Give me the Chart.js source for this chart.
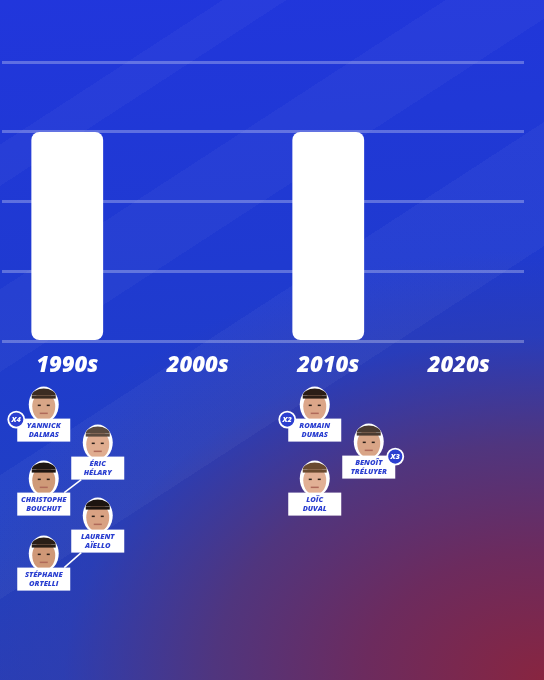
<!DOCTYPE html>
<html lang="fr">
<head>
  <meta charset="UTF-8">
  <title>Vainqueurs français par décennie</title>
  <style>
    html,body{margin:0;width:544px;height:680px;overflow:hidden}
    body{
      background:
        linear-gradient(-33deg, transparent 0 42%, rgba(255,255,255,0.035) 42% 54%, transparent 54% 100%),
        linear-gradient(-33deg, transparent 0 64%, rgba(255,255,255,0.03) 64% 72%, transparent 72% 100%),
        linear-gradient(-33deg, transparent 0 82%, rgba(255,255,255,0.03) 82% 86%, transparent 86% 100%),
        radial-gradient(ellipse 600px 430px at 100% 100%, #882540 0%, #6c2b5e 30%, #50357e 55%, rgba(50,60,170,0.5) 80%, rgba(40,60,190,0) 100%),
        linear-gradient(175deg, #2136dc 0%, #1f3ad0 40%, #2040c2 75%, #2a3eb4 100%);
    }
    #wrap{position:absolute;left:0;top:0;width:544px;height:680px}
  </style>
  <script src="https://cdn.jsdelivr.net/npm/chart.js"></script>
</head>
<body>
  <div id="wrap"><canvas id="decadeChart"></canvas></div>
  <script>
    const decades = ['1990s','2000s','2010s','2020s'];
    const winners = [3, 0, 3, 0];
    const yTicks  = [0, 1, 2, 3, 4];

    const driverNames   = [['YANNICK','DALMAS'],['ÉRIC','HÉLARY'],['CHRISTOPHE','BOUCHUT'],['LAURENT','AÏELLO'],['STÉPHANE','ORTELLI'],
                           ['ROMAIN','DUMAS'],['BENOÎT','TRÉLUYER'],['LOÏC','DUVAL']];
    const driverDecade  = [0, 0, 0, 0, 0, 2, 2, 2];
    const driverWins    = [4, 1, 1, 1, 1, 2, 3, 1];

    // card layout: box left offset from decade centre, top offset below the axis, badge side
    const cardSlots = [
      {dx:-50, dy:77,  badge:'left'},
      {dx:4,   dy:115, badge:'right'},
      {dx:-50, dy:151, badge:'left'},
      {dx:4,   dy:188, badge:'right'},
      {dx:-50, dy:226, badge:'left'},
      {dx:-40, dy:77,  badge:'left'},
      {dx:14,  dy:114, badge:'right'},
      {dx:-40, dy:151, badge:'left'}
    ];
    const links = [[1,2],[3,4]];
    const faceTones = [['#d8a687','#3b2c22'],['#e0ad90','#5a4a3e'],['#cf9a78','#1e1612'],['#d9a283','#1c1410'],['#cf9877','#2a1e16'],
                       ['#dca689','#2a1d16'],['#d9a587','#4a3a30'],['#e2b095','#6a4a30']];

    const BW = 53, BH = 23, BLUE = '#2b3fd0';
    const CARD_FONT = 'italic 800 7.5px "Open Sans", Lato, sans-serif';

    function drawFace(ctx, cx, cy, tone){
      ctx.save();
      ctx.fillStyle = '#fff';
      ctx.beginPath(); ctx.ellipse(cx, cy, 15, 18, 0, 0, Math.PI*2); ctx.fill();
      ctx.fillStyle = tone[0];
      ctx.beginPath(); ctx.ellipse(cx, cy+2, 11.5, 14.5, 0, 0, Math.PI*2); ctx.fill();
      ctx.fillStyle = tone[1];
      ctx.beginPath(); ctx.ellipse(cx, cy-9, 12, 7, 0, Math.PI, Math.PI*2); ctx.fill();
      ctx.fillRect(cx-12, cy-9, 24, 3);
      ctx.fillStyle = '#2a1e18';
      ctx.fillRect(cx-6, cy, 3, 1.5); ctx.fillRect(cx+3, cy, 3, 1.5);
      ctx.fillStyle = '#b06a5a';
      ctx.fillRect(cx-4, cy+8, 8, 1.5);
      ctx.restore();
    }

    const cardsPlugin = {
      id: 'cards',
      afterDraw(chart){
        const ctx = chart.ctx, xs = chart.scales.x, base = chart.chartArea.bottom;
        const box = i => {
          const s = cardSlots[i];
          return {x: xs.getPixelForValue(driverDecade[i]) + s.dx, y: base + s.dy};
        };
        ctx.save();
        ctx.strokeStyle = '#fff'; ctx.lineWidth = 1.5;
        links.forEach(([a,b]) => {
          const p = box(a), q = box(b);
          ctx.beginPath(); ctx.moveTo(p.x + 10, p.y + BH); ctx.lineTo(q.x + BW - 6, q.y); ctx.stroke();
        });
        driverNames.forEach((name, i) => {
          const b = box(i);
          drawFace(ctx, b.x + BW/2, b.y - 14, faceTones[i]);
          ctx.fillStyle = '#fff';
          ctx.fillRect(b.x, b.y, BW, BH);
          ctx.fillStyle = BLUE;
          ctx.font = CARD_FONT;
          ctx.textAlign = 'center'; ctx.textBaseline = 'middle';
          ctx.fillText(name[0], b.x + BW/2, b.y + 7);
          ctx.fillText(name[1], b.x + BW/2, b.y + 16);
          if (driverWins[i] > 1){
            const bx = cardSlots[i].badge === 'left' ? b.x - 1 : b.x + BW;
            ctx.beginPath(); ctx.arc(bx, b.y + 1, 8, 0, Math.PI*2);
            ctx.fillStyle = BLUE; ctx.fill();
            ctx.lineWidth = 1.8; ctx.strokeStyle = '#fff'; ctx.stroke();
            ctx.fillStyle = '#fff';
            ctx.font = CARD_FONT;
            ctx.fillText('X' + driverWins[i], bx, b.y + 1.5);
          }
        });
        ctx.restore();
      }
    };

    new Chart(document.getElementById('decadeChart'), {
      type: 'bar',
      data: {
        labels: decades,
        datasets: [{
          data: winners,
          backgroundColor: '#ffffff',
          borderRadius: 8,
          borderSkipped: false,
          barPercentage: 0.55,
          categoryPercentage: 1
        }]
      },
      options: {
        responsive: true,
        maintainAspectRatio: false,
        animation: false,
        layout: { padding: { top: 62, left: 2, right: 20, bottom: 298 } },
        plugins: { legend: { display: false }, tooltip: { enabled: false } },
        scales: {
          x: {
            grid: { display: false },
            border: { display: false },
            ticks: {
              color: '#fff',
              padding: 3,
              font: { family: '"Open Sans", Lato, sans-serif', size: 22, weight: '800', style: 'italic' }
            }
          },
          y: {
            min: yTicks[0],
            max: yTicks[yTicks.length - 1],
            afterBuildTicks: s => { s.ticks = yTicks.map(v => ({ value: v })); },
            grid: { color: 'rgba(255,255,255,0.28)', lineWidth: 3, drawTicks: false },
            border: { display: false },
            ticks: { display: false }
          }
        }
      },
      plugins: [cardsPlugin]
    });
  </script>
</body>
</html>
